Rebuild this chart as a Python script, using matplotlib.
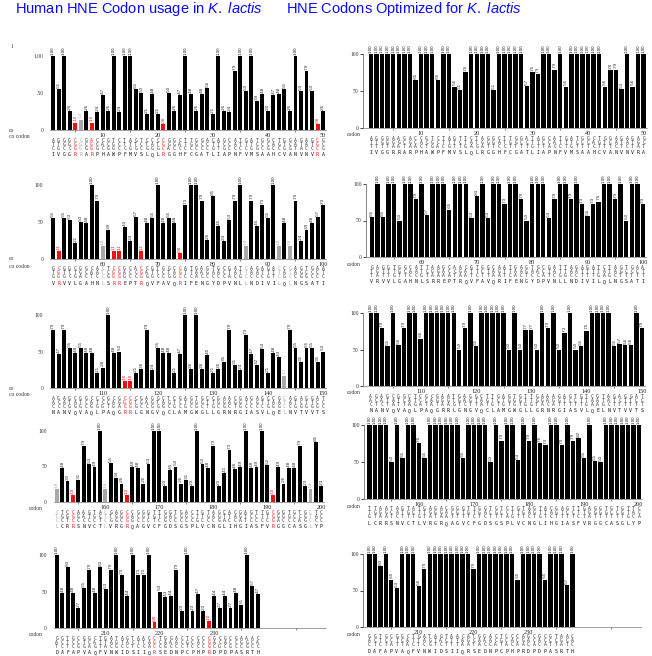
import matplotlib.pyplot as plt
from matplotlib.transforms import offset_copy

plt.rcParams['font.family'] = ['Liberation Sans', 'DejaVu Sans']
plt.rcParams['mathtext.fontset'] = 'custom'
plt.rcParams['mathtext.rm'] = 'Liberation Sans'
plt.rcParams['mathtext.it'] = 'Liberation Sans:italic'

W, H = 652, 656

ROW_START = [1, 51, 101, 151, 201]

AMINO_ACIDS = [
    "IVGGRRARPHAWPFMVSLQLRGGHFCGATLIAPNFVMSAAHCVANVNVRA",
    "VRVVLGAHNLSRREPTRQVFAVQRIFENGYDPVNLLNDIVILQLNGSATI",
    "NANVQVAQLPAQGRRLGNGVQCLAMGWGLLGRNRGIASVLQELNVTVVTS",
    "LCRRSNVCTLVRGRQAGVCFGDSGSPLVCNGLIHGIASFVRGGCASGLYP",
    "DAFAPVAQFVNWIDSIIQRSEDNPCPHPRDPDPASRTH",
]

HUMAN_CODONS = [
    "ATC GTG GGC GGC CGG CGG GCG AGG CCG CAC GCG TGG CCC TTC ATG GTG TCC CTG CAG CTG "
    "CGC GGA GGC CAC TTC TGC GGC GCC ACC CTG ATT GCG CCC AAC TTC GTC ATG TCG GCC GCG "
    "CAC TGC GTG GCG AAT GTA AAC GTC CGC GCG",
    "GTG CGG GTG GTC CTG GGA GCC CAT AAC CTC TCG CGG CGG GAG CCC ACC CGG CAG GTG TTC "
    "GCC GTG CAG CGC ATC TTC GAA AAC GGC TAC GAC CCC GTA AAC TTG CTC AAC GAC ATC GTG "
    "ATT CTC CAG CTC AAC GGG TCG GCC ACC ATC",
    "AAC GCC AAC GTG CAG GTG GCC CAG CTG CCG GCT CAG GGA CGC CGG CTG GGC AAC GGG GTG "
    "CAG TGC CTG GCC ATG GGC TGG GGC CTT CTG GGC AGG AAC CGT GGG ATC GCC AGC GTC CTG "
    "CAG GAG CTC AAC GTG ACG GTG GTG ACG TCC",
    "CTC TGC CGT CGC AGC AAC GTC TGC ACT CTC GTG AGG GGC CGG CAG GCC GGC GTC TGT TTC "
    "GGG GAC TCC GGC AGC CCC TTG GTC TGC AAC GGG CTA ATC CAC GGA ATT GCC TCC TTC GTC "
    "CGG GGA GGC TGC GCC TCA GGG CTC TAC CCC",
    "GAT GCC TTT GCC CCG GTG GCA CAG TTT GTA AAC TGG ATC GAC TCT ATC ATC CAA CGC TCC "
    "GAG GAC AAC CCC TGT CCC CAC CCC CGG GAC CCG GAC CCG GCC AGC AGG ACC CAC",
]

# preferred K. lactis codon per amino acid (optimized gene)
OPT_CODON = {'A': 'GCT', 'R': 'AGA', 'N': 'AAC', 'D': 'GAC', 'C': 'TGT',
             'Q': 'CAA', 'E': 'GAA', 'G': 'GGT', 'H': 'CAC', 'I': 'ATT',
             'L': 'TTG', 'K': 'AAG', 'M': 'ATG', 'F': 'TTC', 'P': 'CCA',
             'S': 'TCT', 'T': 'ACT', 'W': 'TGG', 'Y': 'TAC', 'V': 'GTT'}

HUMAN_USAGE = [
    [100, 55, 100, 26, 10, 14, 26, 10, 24, 47, 26, 100, 24, 100, 100, 55, 50, 21, 48, 21,
     8, 50, 26, 47, 100, 48, 26, 48, 56, 21, 100, 26, 24, 79, 100, 53, 100, 39, 48, 26,
     47, 48, 55, 26, 100, 53, 79, 53, 8, 26],
    [55, 11, 55, 53, 21, 50, 48, 100, 79, 18, 39, 11, 11, 43, 24, 57, 11, 48, 55, 100,
     48, 55, 48, 8, 73, 100, 100, 79, 26, 85, 45, 24, 53, 79, 100, 18, 79, 45, 73, 55,
     100, 18, 48, 18, 79, 24, 39, 48, 57, 73],
    [79, 47, 79, 55, 48, 55, 48, 48, 21, 28, 100, 48, 50, 10, 10, 21, 26, 79, 24, 55,
     48, 48, 21, 47, 100, 26, 100, 26, 45, 21, 26, 35, 79, 31, 24, 73, 47, 32, 53, 21,
     48, 43, 17, 79, 55, 35, 55, 55, 35, 50],
    [18, 48, 30, 10, 31, 79, 53, 49, 100, 18, 55, 34, 26, 10, 49, 48, 26, 53, 100, 100,
     23, 45, 50, 26, 31, 23, 100, 53, 48, 79, 23, 41, 73, 46, 49, 100, 48, 49, 100, 52,
     10, 49, 26, 48, 48, 79, 23, 18, 85, 23],
    [100, 48, 83, 48, 27, 55, 79, 48, 83, 53, 79, 100, 73, 44, 100, 73, 73, 100, 8, 50,
     43, 44, 79, 23, 100, 23, 47, 23, 10, 44, 27, 44, 27, 48, 31, 100, 57, 47],
]

OPT_USAGE = [
    [100, 100, 100, 100, 100, 100, 100, 100, 65, 100, 100, 100, 65, 100, 100, 56, 51, 76, 100, 100,
     100, 100, 51, 100, 100, 100, 100, 100, 57, 76, 73, 100, 100, 79, 100, 56, 100, 100, 100, 100,
     100, 100, 56, 78, 79, 53, 100, 56, 100, 100],
    [55, 100, 55, 100, 100, 50, 100, 100, 79, 100, 57, 100, 100, 100, 65, 100, 100, 100, 53, 83,
     100, 53, 100, 100, 73, 100, 100, 79, 50, 100, 100, 100, 53, 79, 100, 100, 79, 100, 73, 56,
     73, 76, 100, 100, 79, 100, 50, 100, 100, 73],
    [100, 100, 79, 55, 100, 56, 79, 100, 100, 65, 100, 100, 100, 100, 100, 100, 50, 79, 100, 55,
     100, 100, 100, 100, 100, 50, 100, 50, 77, 77, 50, 100, 79, 100, 50, 73, 100, 50, 55, 76,
     100, 100, 100, 100, 55, 57, 56, 56, 100, 79],
    [100, 100, 100, 100, 50, 100, 55, 100, 100, 76, 55, 100, 100, 100, 100, 100, 100, 55, 100, 100,
     100, 100, 50, 100, 79, 100, 100, 53, 100, 79, 100, 76, 73, 100, 100, 73, 100, 79, 82, 55,
     100, 51, 50, 100, 100, 100, 100, 100, 100, 100],
    [100, 100, 83, 100, 65, 53, 100, 100, 100, 56, 79, 100, 100, 100, 100, 100, 100, 100, 100, 79,
     100, 100, 100, 100, 100, 100, 100, 65, 100, 100, 100, 100, 65, 100, 100, 100, 57, 100],
]

# panel placement in pixels: first slot edge, last slot edge, y of 100, y of 0, spine x
LEFT_BOX = [(50.3, 325.8, 55.7, 130, None), (50.3, 325.8, 185, 259, None),
            (50.3, 325.8, 315, 388, None), (54, 324, 431, 502, None),
            (54, 325.5, 555, 628, None)]
RIGHT_BOX = [(368.2, 646.5, 54, 128, 363), (369, 645.6, 184, 257, 366),
             (368, 644.6, 313, 386, 363), (366.6, 641.6, 425, 499, 364),
             (366.6, 641, 554, 627, 363)]

RED, GRAY, BLACK = '#f01010', '#a8a8a8', '#000000'

fig = plt.figure(figsize=(W / 100, H / 100), dpi=100)


def shade(v, rare):
    if rare and v < 12:
        return RED
    if rare and v < 20:
        return GRAY
    return BLACK


def draw_panel(box, start, values, codons, aa, rare, right, ylabels):
    x0, x1, y100, y0, spine_x = box
    slot = (x1 - x0) / 50
    left = spine_x if spine_x is not None else x0
    ax = fig.add_axes([left / W, 1 - y0 / H, (x1 - left) / W, (y0 - y100) / H])
    pos = list(range(start, start + len(values)))
    cols = [shade(v, rare) for v in values]
    ax.bar(pos, values, width=0.8 if right else 0.72, color=cols, linewidth=0)
    ax.set_xlim(start - 0.5 - (x0 - left) / slot, start + 49.5)
    ax.set_ylim(0, 100)

    for s in ['top', 'right']:
        ax.spines[s].set_visible(False)
    ax.spines['bottom'].set_color('#777777')
    ax.spines['bottom'].set_linewidth(0.5)
    if right:
        ax.spines['left'].set_linewidth(0.5)
        ax.spines['left'].set_color('#555555')
        ax.tick_params(axis='y', length=2, width=0.5, pad=1, labelsize=4, labelcolor='#333333')
    else:
        ax.spines['left'].set_visible(False)
        ax.tick_params(axis='y', length=0, pad=5, labelsize=4, labelcolor='#333333')
    ax.set_yticks([0, 50, 100])
    ax.set_yticklabels(ylabels, family='Liberation Serif')

    minor = [t for t in range(start + 4, start + 50, 10)]
    ax.set_xticks(minor)
    ax.set_xticklabels([])
    ax.tick_params(axis='x', length=1.5, width=0.5, color='#555555')

    xt = ax.get_xaxis_transform()
    t_tick = offset_copy(xt, fig=fig, y=-5.5, units='dots')
    t_cod = [offset_copy(xt, fig=fig, y=-dy, units='dots') for dy in (10, 14, 18)]
    t_aa = offset_copy(xt, fig=fig, y=-24.5, units='dots')

    for t in range(start + 9, start + len(values) + 1, 10):
        ax.text(t, 0, str(t), transform=t_tick, ha='center', va='center',
                fontsize=4.5, family='Liberation Serif', color='#222222')

    for p, v, c, cod, a in zip(pos, values, cols, codons, aa):
        lab = '1.00' if v == 100 else '.%02d' % v
        ax.text(p, v + 1.5, lab, rotation=90, ha='center', va='bottom',
                fontsize=3.2, color=c if c != BLACK else '#222222', clip_on=False)
        lc = c if c != BLACK else '#333333'
        for k in range(3):
            ax.text(p, 0, cod[k], transform=t_cod[k], ha='center', va='center',
                    fontsize=3.4, family='DejaVu Sans Mono', color=lc)
        ax.text(p, 0, a, transform=t_aa, ha='center', va='center',
                fontsize=3.5, family='DejaVu Sans Mono',
                color=c if c != BLACK else '#111111')
    return ax


for r in range(5):
    start = ROW_START[r]
    aa = AMINO_ACIDS[r]
    human = HUMAN_CODONS[r].split()
    opt = [OPT_CODON[a] for a in aa]
    ylab_left = ['0', '.50', '1.00'] if r == 0 else ['0', '50', '100']
    draw_panel(LEFT_BOX[r], start, HUMAN_USAGE[r], human, aa, True, False, ylab_left)
    draw_panel(RIGHT_BOX[r], start, OPT_USAGE[r], opt, aa, False, True, ['0', '50', '100'])

    # "codon" row captions
    yb = LEFT_BOX[r][3]
    if r < 3:
        fig.text(9 / W, 1 - yb / H, 'co', fontsize=4, family='Liberation Serif',
                 color='#333333', va='center')
        fig.text(9 / W, 1 - (yb + 7) / H, 'co codon', fontsize=4,
                 family='Liberation Serif', color='#333333', va='center')
    else:
        fig.text(43 / W, 1 - (yb + 7) / H, 'codon', fontsize=4, ha='right',
                 family='Liberation Serif', color='#333333', va='center')
    yr = RIGHT_BOX[r][3]
    fig.text(361 / W, 1 - (yr + 7) / H, 'codon', fontsize=4, ha='right',
             family='Liberation Serif', color='#333333', va='center')

fig.text(12 / W, 1 - 46 / H, '1', fontsize=4, family='Liberation Serif',
         color='#333333', ha='center', va='center')

fig.text(139 / W, 1 - 12.7 / H, r'Human HNE Codon usage in $K.\ lactis$',
         fontsize=10.5, color='#0a0aff', ha='center', va='baseline')
fig.text(404 / W, 1 - 12.7 / H, r'HNE Codons Optimized for $K.\ lactis$',
         fontsize=10.5, color='#0a0aff', ha='center', va='baseline')

fig.savefig('out.png', dpi=100, facecolor='white')
